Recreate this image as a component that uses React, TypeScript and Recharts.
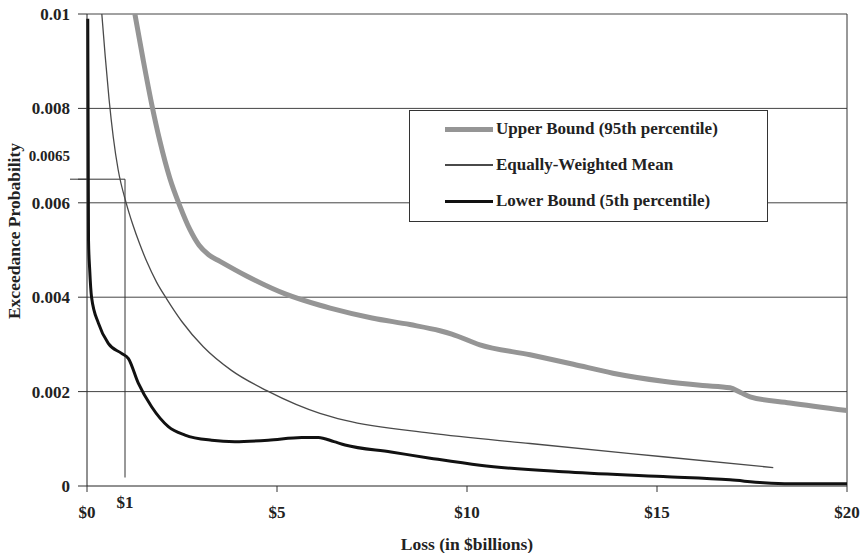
import { LineChart, Line, XAxis, YAxis, CartesianGrid, ReferenceLine, Legend } from "recharts";

// loss in $billions vs exceedance probability
const upperLoss = [1.26, 1.48, 1.7, 1.92, 2.18, 2.45, 2.71, 2.95, 3.2, 3.5, 4.2, 5.25, 6.13, 6.4, 7.5, 8.5, 9.29, 9.6, 10.34, 11.66, 12.8, 13.84, 15.16, 16.2, 16.92, 17.2, 17.45, 18.5, 20];
const upperProb = [0.01, 0.00902, 0.0081, 0.0073, 0.00652, 0.00592, 0.00543, 0.0051, 0.0049, 0.00476, 0.00445, 0.00406, 0.00383, 0.00377, 0.00356, 0.00342, 0.00329, 0.00322, 0.00299, 0.00278, 0.00258, 0.00239, 0.00222, 0.00213, 0.00208, 0.00198, 0.00189, 0.00176, 0.0016];

const meanLoss = [0.39, 0.48, 0.58, 0.69, 0.82, 1.03, 1.2, 1.39, 1.57, 1.83, 2.1, 2.5, 3.06, 3.8, 4.73, 5.5, 6.13, 6.8, 9.03, 11.66, 15.16, 18.06];
const meanProb = [0.01, 0.0091, 0.0082, 0.0074, 0.0067, 0.006, 0.00555, 0.00512, 0.00476, 0.00432, 0.00396, 0.00348, 0.00295, 0.00245, 0.00202, 0.00173, 0.00154, 0.00139, 0.00112, 0.0009, 0.00062, 0.00039];

const lowerLoss = [0.02, 0.03, 0.04, 0.07, 0.12, 0.3, 0.56, 0.91, 1.09, 1.35, 1.7, 2.14, 2.58, 3.28, 3.89, 4.77, 5.65, 6.09, 6.5, 6.79, 8.0, 9.03, 10.34, 12.53, 15.16, 16.92, 17.8, 18.5, 20];
const lowerProb = [0.0099, 0.0075, 0.0052, 0.0046, 0.004, 0.00345, 0.00302, 0.00281, 0.0027, 0.00218, 0.00168, 0.00126, 0.00108, 0.00097, 0.00094, 0.00097, 0.00103, 0.00103, 0.00094, 0.00087, 0.00072, 0.00059, 0.00044, 0.0003, 0.0002, 0.00013, 0.00007, 0.00005, 0.00005];

const xTicks = [0, 1, 5, 10, 15, 20];
const yTicks = [0, 0.002, 0.004, 0.006, 0.0065, 0.008, 0.01];
const gridValues = [0.002, 0.004, 0.006, 0.008, 0.01];

// the $1 / 0.0065 marker lines
const MARK_LOSS = 1;
const MARK_PROB = 0.0065;
const MARK_FLOOR = 0.00018;

const toPoints = (xs: number[], ys: number[]) => xs.map((x, i) => ({ x, y: ys[i] }));

const SERIES = [
  { name: "Upper Bound (95th percentile)", data: toPoints(upperLoss, upperProb), color: "#959595", width: 5 },
  { name: "Equally-Weighted Mean", data: toPoints(meanLoss, meanProb), color: "#4a4a4a", width: 1.3 },
  { name: "Lower Bound (5th percentile)", data: toPoints(lowerLoss, lowerProb), color: "#111111", width: 3 },
];

const FONT = '"Liberation Serif", "Times New Roman", serif';

function YTick({ x, y, payload }: any) {
  const special = payload.value === MARK_PROB;
  return (
    <g>
      {special && <line x1={x} x2={x + 17} y1={y} y2={y} stroke="#333" strokeWidth={1} />}
      <text
        x={x}
        y={y}
        dy={special ? -18 : 6}
        textAnchor="end"
        fontFamily={FONT}
        fontWeight="bold"
        fontSize={special ? 15 : 17}
        fill="#222"
      >
        {payload.value}
      </text>
    </g>
  );
}

function XTick({ x, y, payload }: any) {
  const raised = payload.value === MARK_LOSS;
  return (
    <g>
      {!raised && <line x1={x} x2={x} y1={y - 8} y2={y - 2} stroke="#333" />}
      <text
        x={x}
        y={y}
        dy={raised ? 14 : 24}
        textAnchor="middle"
        fontFamily={FONT}
        fontWeight="bold"
        fontSize={17}
        fill="#222"
      >
        ${payload.value}
      </text>
    </g>
  );
}

function LegendBox() {
  return (
    <div
      style={{
        boxSizing: "border-box",
        width: 359,
        height: 112,
        border: "1.5px solid #333",
        background: "#fff",
        fontFamily: FONT,
        fontWeight: "bold",
        fontSize: 17,
        color: "#222",
      }}
    >
      {SERIES.map((s) => (
        <div key={s.name} style={{ display: "flex", alignItems: "center", height: 36 }}>
          <div style={{ width: 48, height: s.width, background: s.color, marginLeft: 35, marginRight: 3 }} />
          <span>{s.name}</span>
        </div>
      ))}
    </div>
  );
}

export default function App() {
  return (
    <div style={{ position: "absolute", left: 0, top: 0, width: 865, height: 553, background: "#fff" }}>
      <LineChart width={865} height={553} margin={{ top: 14, right: 18, bottom: 0, left: 0 }}>
        <CartesianGrid horizontal vertical={false} horizontalValues={gridValues} stroke="#444" strokeWidth={1} />
        <XAxis
          type="number"
          dataKey="x"
          domain={[0, 20]}
          ticks={xTicks}
          interval={0}
          height={67}
          tickSize={6}
          tickMargin={2}
          tickLine={false}
          tick={<XTick />}
          axisLine={{ stroke: "#222" }}
          allowDuplicatedCategory={false}
          label={{
            value: "Loss (in $billions)",
            position: "insideBottom",
            offset: 3,
            style: { fontFamily: FONT, fontWeight: "bold", fontSize: 17.5, fill: "#222" },
          }}
        />
        <YAxis
          type="number"
          dataKey="y"
          domain={[0, 0.01]}
          ticks={yTicks}
          interval={0}
          width={87}
          tickSize={9}
          tickMargin={8}
          tick={<YTick />}
          tickLine={{ stroke: "#333" }}
          axisLine={{ stroke: "#222" }}
          allowDataOverflow
          label={{
            content: () => (
              <text
                x={14}
                y={231}
                transform="rotate(-90, 14, 231)"
                textAnchor="middle"
                dominantBaseline="central"
                fontFamily={FONT}
                fontWeight="bold"
                fontSize={17.5}
                fill="#222"
              >
                Exceedance Probability
              </text>
            ),
          }}
        />
        <ReferenceLine x={20} stroke="#333" />
        <ReferenceLine
          segment={[
            { x: 0, y: MARK_PROB },
            { x: MARK_LOSS, y: MARK_PROB },
          ]}
          stroke="#333"
          ifOverflow="visible"
        />
        <ReferenceLine
          segment={[
            { x: MARK_LOSS, y: MARK_PROB },
            { x: MARK_LOSS, y: MARK_FLOOR },
          ]}
          stroke="#333"
          ifOverflow="visible"
        />
        {SERIES.map((s) => (
          <Line
            key={s.name}
            data={s.data}
            dataKey="y"
            name={s.name}
            type="monotone"
            stroke={s.color}
            strokeWidth={s.width}
            dot={false}
            activeDot={false}
            isAnimationActive={false}
          />
        ))}
        <Legend
          layout="vertical"
          align="center"
          verticalAlign="middle"
          content={() => <LegendBox />}
          wrapperStyle={{ left: 409, top: 110, width: 359, height: 112 }}
        />
      </LineChart>
    </div>
  );
}
